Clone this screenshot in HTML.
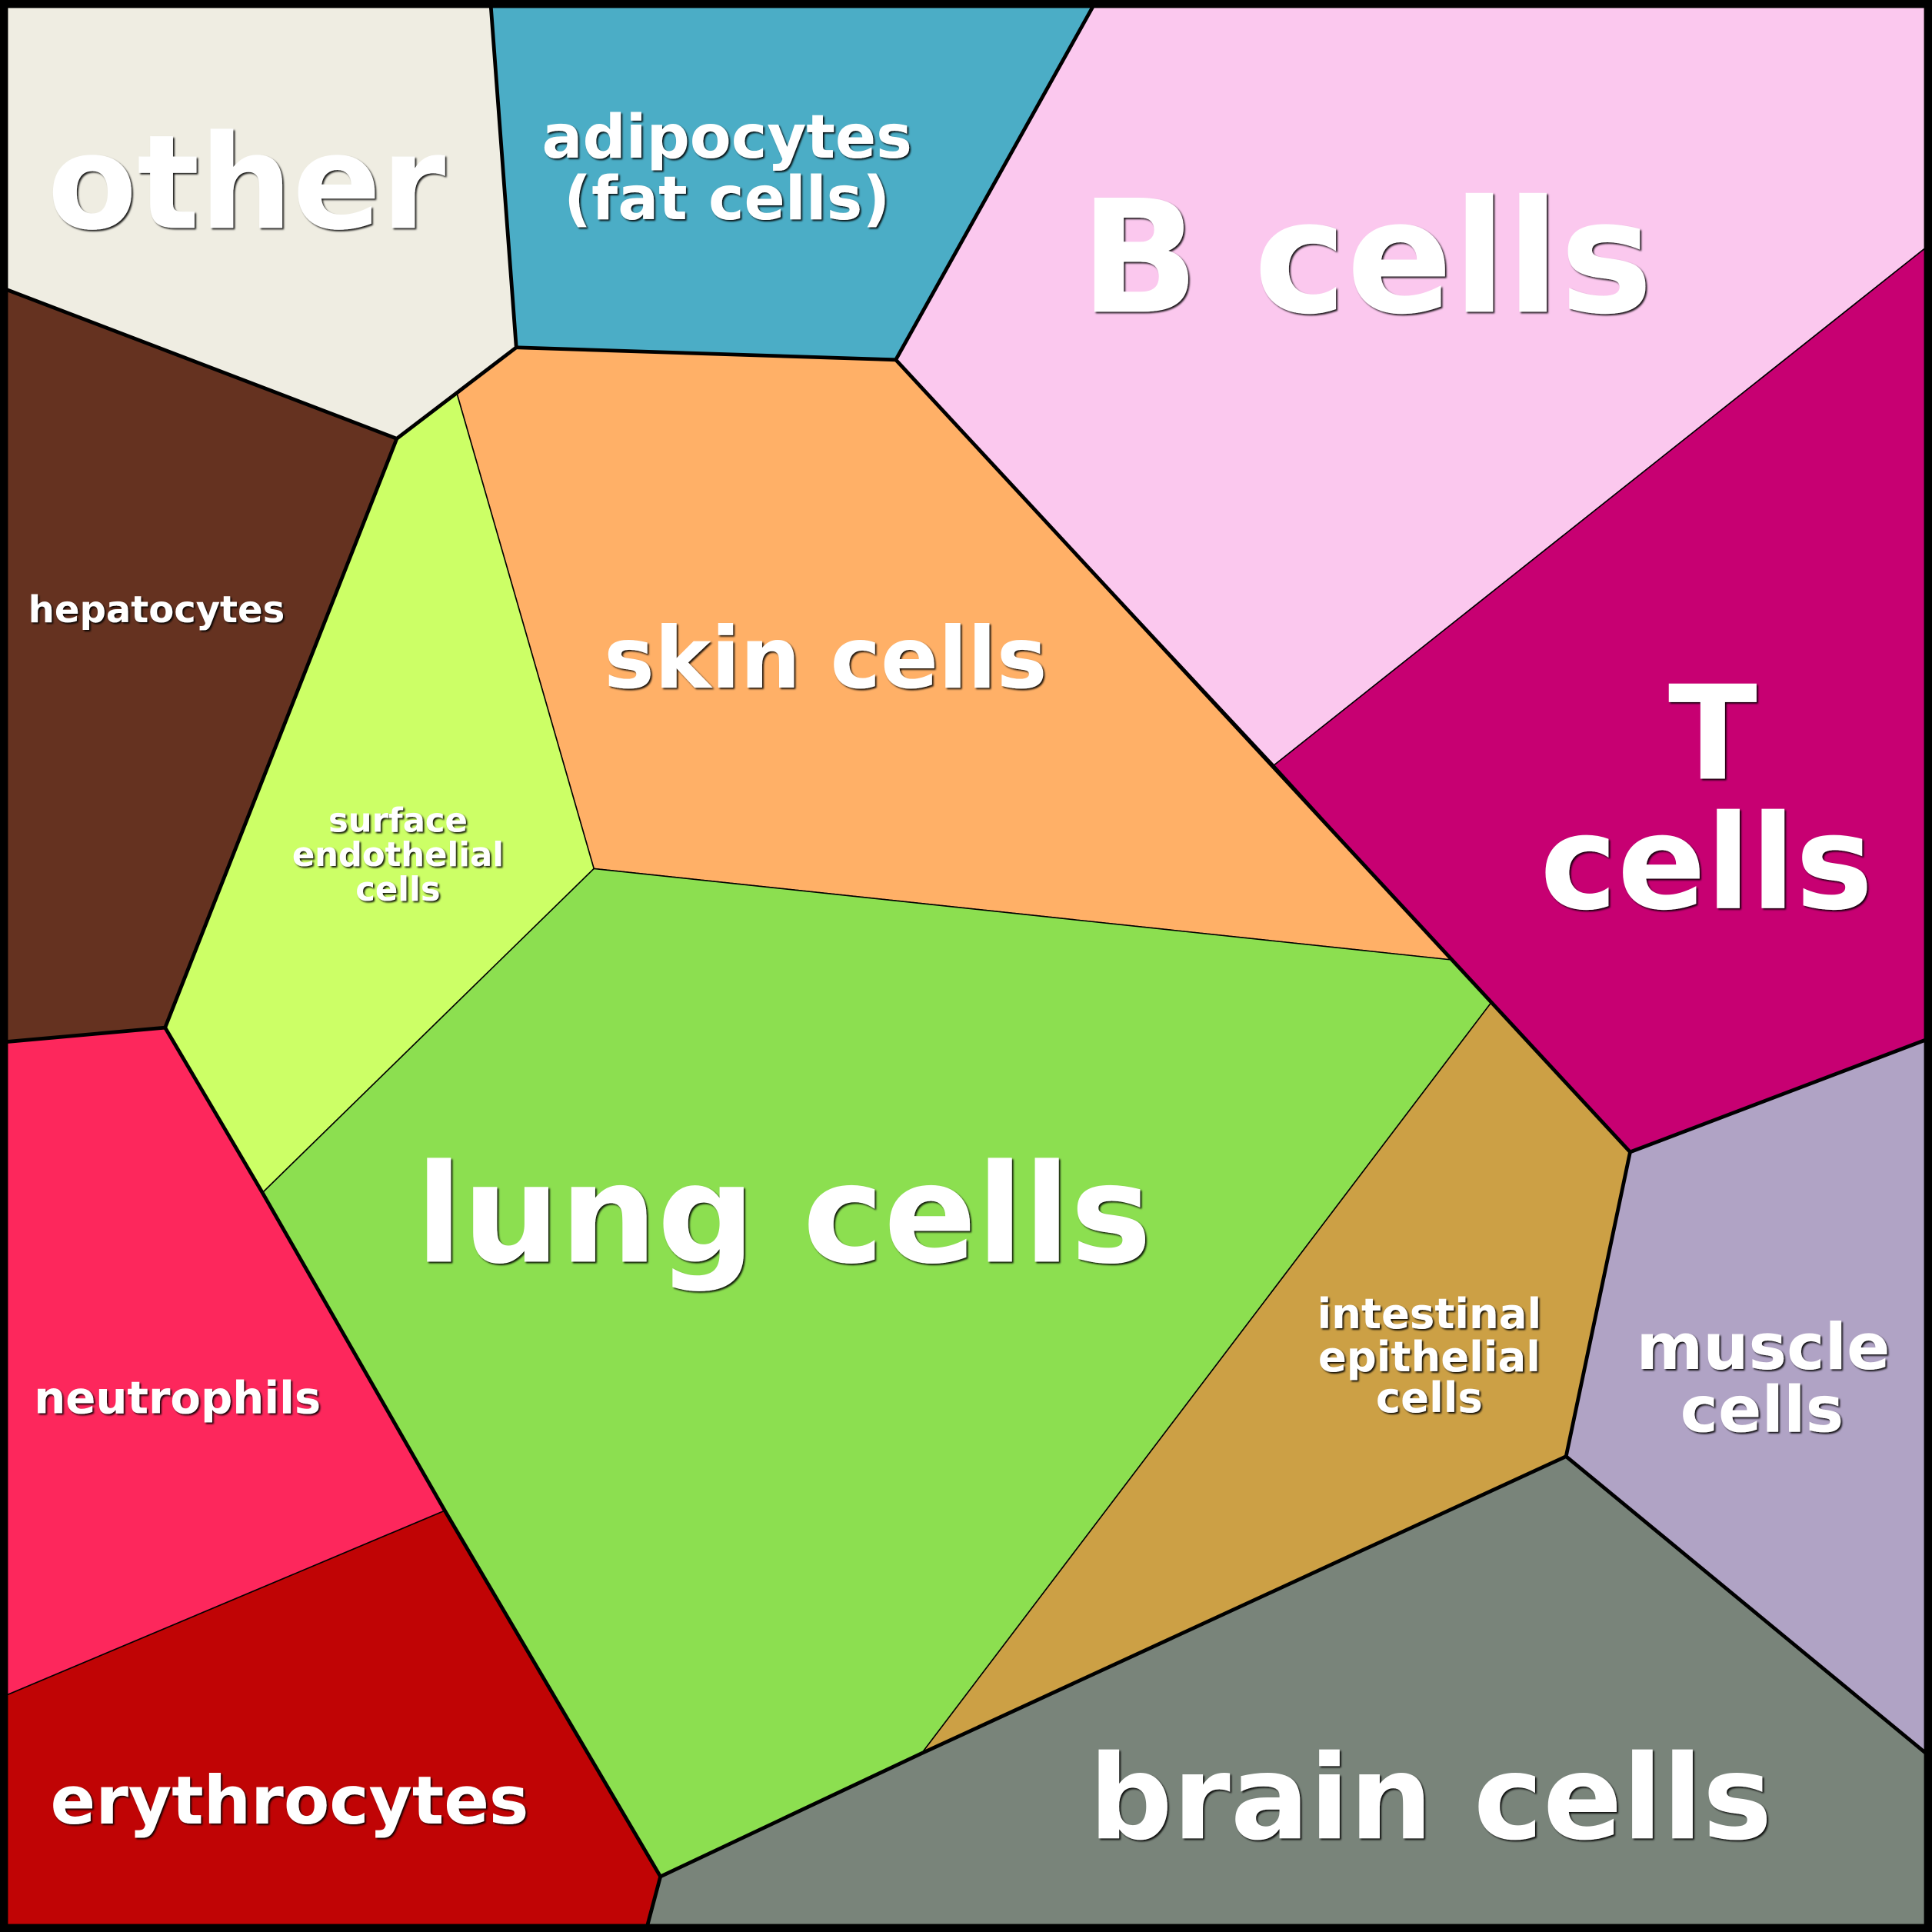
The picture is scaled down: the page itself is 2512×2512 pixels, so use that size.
<!DOCTYPE html>
<html><head><meta charset="utf-8"><style>html,body{margin:0;padding:0;background:#000}svg{display:block}</style></head>
<body>
<svg xmlns="http://www.w3.org/2000/svg" width="2512" height="2512" viewBox="0 0 1568 1568">
<defs><filter id="sh" x="-5%" y="-5%" width="110%" height="110%"><feDropShadow dx="1.2" dy="1.2" stdDeviation="0.6" flood-color="#000" flood-opacity="0.9"/></filter></defs>
<g stroke="#000" stroke-width="1" stroke-linejoin="round">
<polygon fill="#efede2" points="0,0 398,0 419,282 322,356 0,233"/>
<polygon fill="#4badc6" points="398,0 890,0 727,292 419,282"/>
<polygon fill="#fbc8ee" points="890,0 1568,0 1568,197 1034,621 727,292"/>
<polygon fill="#c70072" points="1568,197 1568,842 1323,935 1210,814 1178,779 1034,621"/>
<polygon fill="#ffb067" points="419,282 727,292 1034,621 1178,779 482,705 371,320"/>
<polygon fill="#ccff66" points="322,356 371,320 482,705 213,968 134,834"/>
<polygon fill="#653220" points="0,233 322,356 134,834 0,846"/>
<polygon fill="#8cdf50" points="482,705 1178,779 1210,814 748,1423 536,1523 361,1226 213,968"/>
<polygon fill="#cca045" points="1210,814 1323,935 1271,1182 748,1423"/>
<polygon fill="#b0a3c5" points="1323,935 1568,842 1568,1427 1271,1182"/>
<polygon fill="#79847a" points="1271,1182 1568,1427 1568,1568 524,1568 536,1523 748,1423"/>
<polygon fill="#fd275c" points="0,846 134,834 213,968 361,1226 0,1378"/>
<polygon fill="#c00405" points="0,1378 361,1226 536,1523 524,1568 0,1568"/>
</g>
<g stroke="#000" stroke-width="3" fill="none" stroke-linejoin="round" stroke-linecap="round">
<polyline points="398,0 419,282 322,356 0,233"/>
<polyline points="890,0 727,292 419,282"/>
<polyline points="727,292 1323,935 1568,842"/>
<polyline points="1323,935 1271,1182 1568,1427"/>
<polyline points="1271,1182 748,1423 536,1523 524,1568"/>
<polyline points="536,1523 361,1226 213,968 134,834 0,846"/>
<polyline points="134,834 322,356"/>
</g>
<rect x="3" y="3" width="1562" height="1562" fill="none" stroke="#000" stroke-width="7"/>
<g fill="#fff" font-family="'DejaVu Sans','Liberation Sans',sans-serif" font-weight="bold" text-anchor="middle" filter="url(#sh)">
<text x="200" y="185" font-size="106">other</text>
<text x="590" y="128" font-size="49">adipocytes</text>
<text x="590" y="178" font-size="49">(fat cells)</text>
<text x="1109" y="253" font-size="127">B cells</text>
<text x="670" y="558" font-size="69">skin cells</text>
<text x="1390" y="632" font-size="106">T</text>
<text x="1385" y="737" font-size="106">cells</text>
<text x="127" y="505" font-size="30">hepatocytes</text>
<text x="323" y="675" font-size="27">surface</text>
<text x="323" y="703" font-size="27">endothelial</text>
<text x="323" y="731" font-size="27">cells</text>
<text x="636" y="1024" font-size="111">lung cells</text>
<text x="1160" y="1078" font-size="34">intestinal</text>
<text x="1160" y="1113" font-size="34">epithelial</text>
<text x="1160" y="1146" font-size="34">cells</text>
<text x="1431" y="1111" font-size="52">muscle</text>
<text x="1430" y="1162" font-size="52">cells</text>
<text x="144" y="1147" font-size="36">neutrophils</text>
<text x="235" y="1480" font-size="54">erythrocytes</text>
<text x="1161" y="1492" font-size="95">brain cells</text>
</g>
</svg>
</body></html>
